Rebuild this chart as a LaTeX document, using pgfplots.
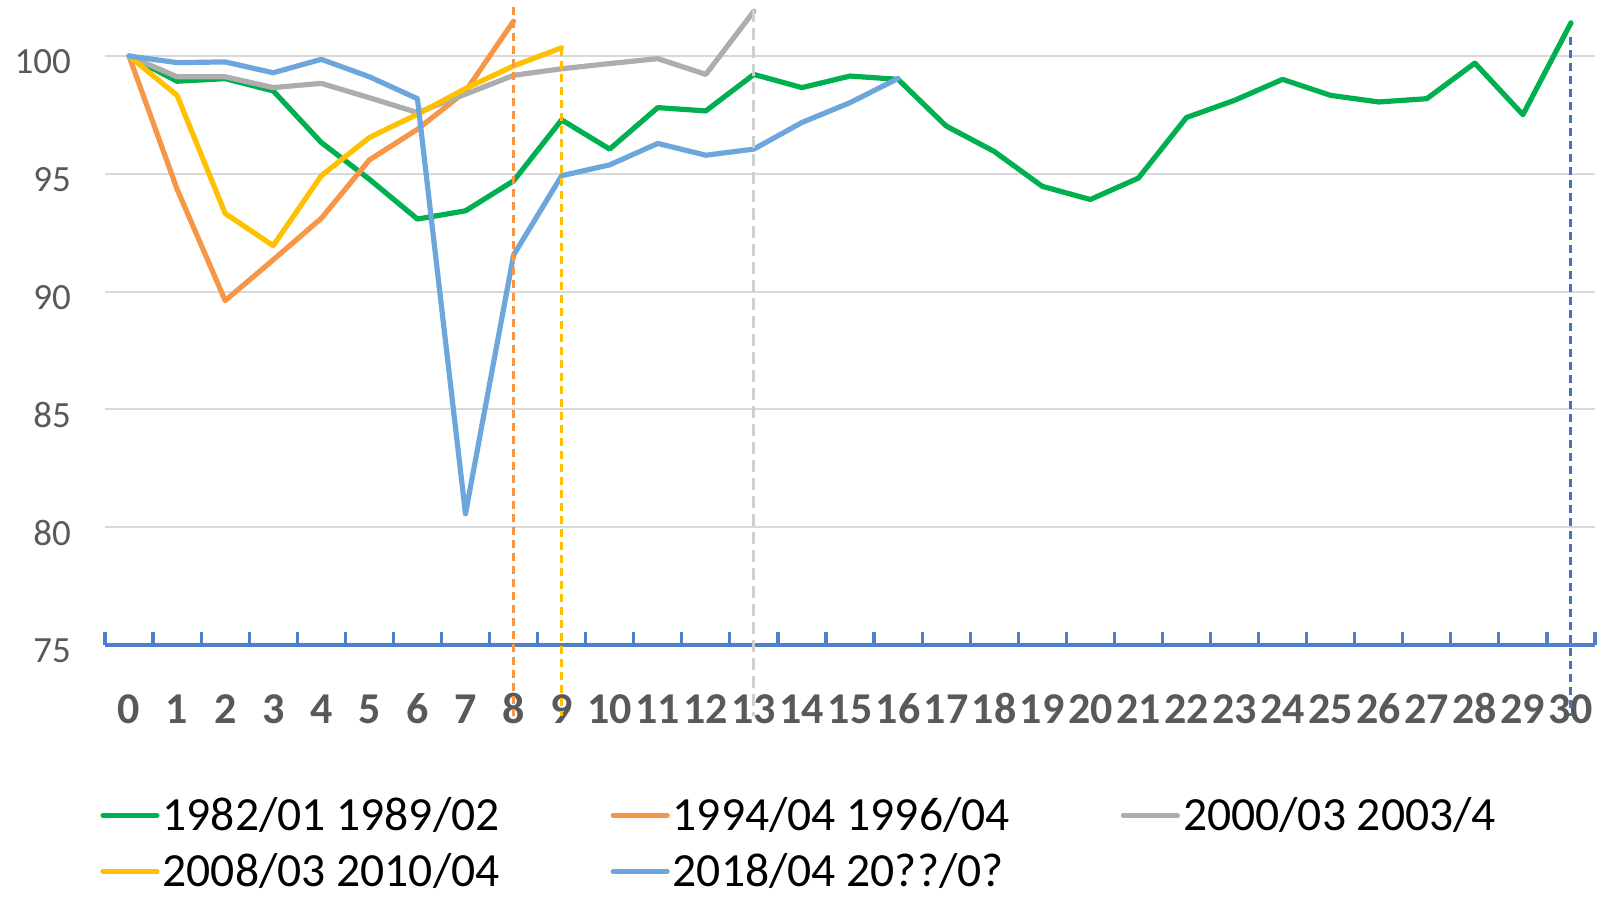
\documentclass[border=0pt]{standalone}
\usepackage{pgfplots}
\pgfplotsset{compat=1.18}
\usepackage{fontspec}
\setmainfont{Carlito}
\definecolor{cgreen}{HTML}{00B050}
\definecolor{corange}{HTML}{F79646}
\definecolor{cgray}{HTML}{ADADAD}
\definecolor{cyellow}{HTML}{FFC000}
\definecolor{cblue}{HTML}{6CA6DC}
\definecolor{axblue}{HTML}{4F7FCC}
\definecolor{dblue}{HTML}{4472C4}
\definecolor{dgray}{HTML}{CFCFCF}
\definecolor{gridgray}{HTML}{D9D9D9}
\definecolor{labgray}{HTML}{595959}
\begin{document}
\begin{tikzpicture}
\useasboundingbox (-52.5pt,-128pt) rectangle (747pt,322.5pt);
\begin{axis}[
  at={(0pt,0pt)}, anchor=south west, scale only axis,
  width=745pt, height=320.4pt,
  xmin=-0.5, xmax=30.5, ymin=75, ymax=102.2,
  clip=false,
  axis x line*=bottom, axis y line*=left,
  x axis line style={color=axblue, line width=2.2pt},
  y axis line style={draw=none},
  xtick={0,...,30},
  minor xtick={-0.5,0.5,...,30.5},
  major tick length=0pt,
  minor tick length=6.3pt,
  minor tick style={color=axblue, line width=1.6pt},
  tick align=inside,
  ytick={75,80,...,100},
  ymajorgrids,
  major grid style={color=gridgray, line width=1pt},
  /pgf/number format/assume math mode=true,
  yticklabel style={font=\fontsize{18.5}{20}\selectfont, color=labgray, xshift=-13.5pt, yshift=-3pt},
  xticklabel style={font=\fontsize{22}{24}\selectfont\bfseries, color=labgray, anchor=base, yshift=-39pt},
  legend columns=3,
  legend cell align=left,
  legend image code/.code={\draw[#1, line cap=round] (0pt,0pt) -- (27pt,0pt);},
  legend style={at={(axis description cs:0,0)}, anchor=north west, xshift=-2.5pt, yshift=-75pt,
    draw=none, fill=none, inner sep=0pt, font=\fontsize{23.8}{26}\selectfont,
    row sep=8pt,
    /tikz/every odd column/.style={column sep=0.5pt},
    /tikz/every even column/.style={column sep=23pt},
    nodes={inner sep=1pt}},
  every axis plot/.append style={line width=2.6pt, line join=round, line cap=round},
]
\addplot[cgreen] coordinates {
(0,100) (1,98.93) (2,99.04) (3,98.52) (4,96.33) (5,94.77) (6,93.08) (7,93.43)
(8,94.70) (9,97.29) (10,96.05) (11,97.81) (12,97.67) (13,99.22) (14,98.66)
(15,99.15) (16,99.01) (17,97.03) (18,95.95) (19,94.47) (20,93.91) (21,94.82)
(22,97.39) (23,98.12) (24,99.01) (25,98.33) (26,98.05) (27,98.19) (28,99.70)
(29,97.51) (30,101.41)};
\addlegendentry{\makebox[200pt][l]{1982/01 1989/02}}
\addplot[corange] coordinates {
(0,100) (1,94.35) (2,89.62) (3,91.35) (4,93.11) (5,95.59) (6,96.89) (7,98.5) (8,101.48)};
\addlegendentry{\makebox[200pt][l]{1994/04 1996/04}}
\addplot[cgray] coordinates {
(0,100) (1,99.12) (2,99.12) (3,98.66) (4,98.84) (5,98.23) (6,97.6) (7,98.38)
(8,99.18) (9,99.46) (10,99.68) (11,99.89) (12,99.22) (13,101.9)};
\addlegendentry{\makebox[200pt][l]{2000/03 2003/4}}
\addplot[cyellow] coordinates {
(0,100) (1,98.33) (2,93.32) (3,91.95) (4,94.92) (5,96.54) (6,97.53) (7,98.62) (8,99.58) (9,100.35)};
\addlegendentry{\makebox[200pt][l]{2008/03 2010/04}}
\addplot[cblue] coordinates {
(0,100) (1,99.72) (2,99.75) (3,99.29) (4,99.86) (5,99.12) (6,98.19) (7,80.57)
(8,91.55) (9,94.92) (10,95.38) (11,96.29) (12,95.79) (13,96.05) (14,97.18)
(15,98.02) (16,99.05)};
\addlegendentry{\makebox[200pt][l]{2018/04 20??/0?}}
\addplot[forget plot, corange, line width=1.5pt, line cap=butt, dash pattern=on 4pt off 2.5pt] coordinates {(8,102.1) (8,72)};
\addplot[forget plot, cyellow, line width=1.5pt, line cap=butt, dash pattern=on 4pt off 2.5pt] coordinates {(9,100.35) (9,72)};
\addplot[forget plot, dgray, line width=1.5pt, line cap=butt, dash pattern=on 6pt off 3pt] coordinates {(13,101.95) (13,72)};
\addplot[forget plot, dblue, line width=1.5pt, line cap=butt, dash pattern=on 4pt off 2.5pt] coordinates {(30,100.8) (30,72)};
\end{axis}
\end{tikzpicture}
\end{document}
